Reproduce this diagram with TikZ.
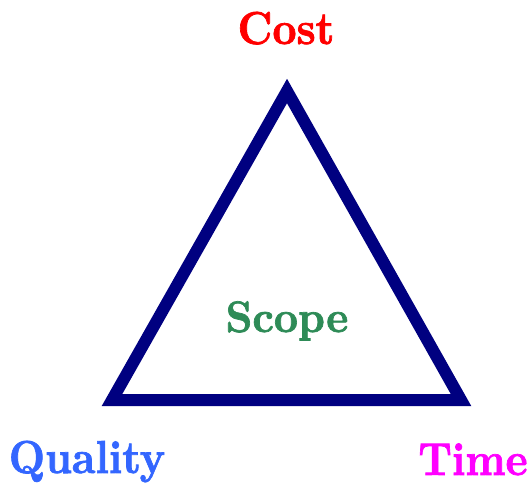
\documentclass[tikz,border=0pt]{standalone}
\usepackage{fontspec}
\usepackage{graphicx}
% heavy display face for the labels
\newfontfamily\heavyface{lmroman10-bold}[Extension=.otf,FakeBold=1.6]
\definecolor{trinavy}{RGB}{0,0,128}
\definecolor{costred}{RGB}{255,0,0}
\definecolor{qualblue}{RGB}{51,102,255}
\definecolor{timemag}{RGB}{255,0,255}
\definecolor{scopegreen}{RGB}{46,139,87}
\begin{document}
\begin{tikzpicture}[x=1pt,y=-1pt,
  label/.style={anchor=base,inner sep=0pt,font=\heavyface\fontsize{42}{42}\selectfont},
  edge/.style={draw=trinavy,line width=12pt,line join=miter}]
\useasboundingbox (0,0) rectangle (532,483);
% corners of the triangle
\coordinate (apex) at (287,91);
\coordinate (left) at (112,400);
\coordinate (right) at (461,400);
\draw[edge] (left) -- (apex) -- (right) -- cycle;
% the four labels
\node[label,text=costred] (cost) at (286,44) {\scalebox{1}[1.1]{Cost}};
\node[label,text=scopegreen] (scope) at (287,332) {\scalebox{1}[1.05]{Scope}};
\node[label,text=qualblue] (quality) at (87,473) {\scalebox{1}[1.1]{Quality}};
\node[label,text=timemag] (time) at (473,475) {\scalebox{1}[1.1]{Time}};
\end{tikzpicture}
\end{document}
